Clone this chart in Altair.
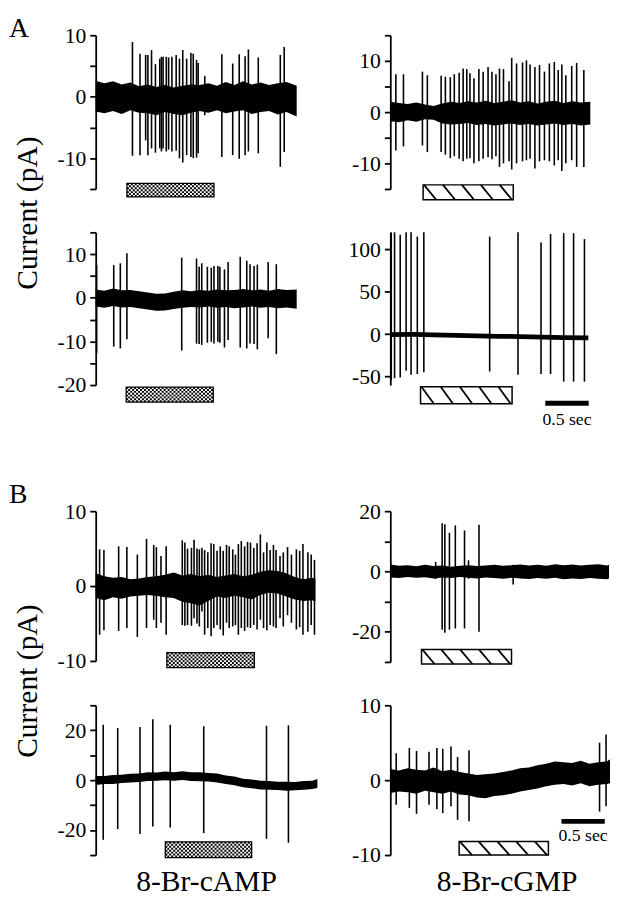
import altair as alt
import pandas as pd

FONT = "Liberation Serif"
PX_PER_S = 88  # horizontal scale of every trace: 0.5 sec = 44 px

# ---------------- Panel A, top left (8-Br-cAMP) ----------------
a1_t = [0.424, 0.511, 0.576, 0.602, 0.644, 0.689, 0.739, 0.758, 0.777, 0.814,
        0.841, 0.879, 0.928, 0.966, 1.004, 1.049, 1.098, 1.125, 1.163, 1.182,
        1.258, 1.455, 1.580, 1.655, 1.723, 1.761, 1.875, 2.129, 2.174]
a1_top = [8.9, 7.0, 6.8, 6.8, 7.6, 5.3, 6.2, 6.5, 6.5, 6.5, 6.4, 6.5, 6.8, 6.2, 7.6,
          6.2, 7.1, 7.0, 6.0, 5.5, 3.4, 6.9, 5.4, 6.9, 6.6, 7.7, 6.4, 6.8, 8.1]
a1_bot = [-9.6, -9.5, -7.1, -9.5, -8.4, -9.1, -8.4, -8.9, -8.4, -8.9, -8.6, -8.9, -8.8,
          -10.0, -10.7, -9.5, -9.8, -10.0, -9.9, -9.2, -3.0, -9.8, -9.5, -10.1, -9.5,
          -8.9, -9.2, -11.4, -9.0]
a1_env_t = [0, 0.1, 0.2, 0.3, 0.4, 0.5, 0.6, 0.7, 0.8, 0.9, 1.0, 1.1, 1.2, 1.3, 1.4,
            1.5, 1.6, 1.7, 1.8, 1.9, 2.0, 2.1, 2.2, 2.318]
a1_env_hi = [2.6, 2.2, 2.5, 2.0, 2.3, 1.7, 2.0, 1.6, 1.9, 1.5, 1.8, 2.0, 1.9, 2.2, 1.8,
             2.4, 1.9, 2.5, 2.0, 2.3, 1.9, 2.2, 2.4, 1.8]
a1_env_lo = [-2.4, -2.7, -2.3, -2.8, -2.2, -2.6, -2.7, -3.0, -2.5, -2.8, -3.0, -2.6,
             -2.3, -2.6, -2.2, -2.7, -2.4, -2.2, -2.8, -2.5, -2.3, -2.9, -2.5, -3.2]
a1_bar = [0.36, 1.364, -14.1, -16.3]  # start, end (s); top, bottom (pA)

# ---------------- Panel A, top right (8-Br-cGMP) ----------------
a2_t = [0.064, 0.152, 0.371, 0.428, 0.587, 0.636, 0.693, 0.739, 0.795, 0.841,
        0.883, 0.920, 0.966, 1.023, 1.072, 1.129, 1.174, 1.220, 1.261, 1.307,
        1.371, 1.402, 1.458, 1.527, 1.572, 1.614, 1.670, 1.723, 1.780, 1.837,
        1.894, 1.939, 1.981, 2.027, 2.095, 2.152, 2.235]
a2_top = [7.4, 7.4, 7.9, 7.2, 7.1, 6.9, 6.8, 7.4, 7.7, 8.5, 8.4, 7.6, 6.6, 8.4, 7.9,
          8.8, 7.9, 7.4, 8.5, 8.4, 6.0, 10.6, 9.5, 9.7, 10.1, 9.3, 8.8, 9.2, 7.9,
          9.5, 9.8, 8.2, 9.3, 7.2, 9.0, 9.6, 8.2]
a2_bot = [-7.5, -6.7, -6.5, -7.8, -7.8, -8.3, -9.0, -8.6, -9.1, -9.6, -9.1, -9.0,
          -10.0, -9.6, -9.1, -8.8, -9.2, -8.6, -10.7, -10.0, -9.6, -11.2, -10.0,
          -9.6, -9.4, -9.1, -11.0, -9.6, -9.4, -9.6, -10.4, -9.4, -11.5, -10.0,
          -9.4, -10.7, -10.7]
a2_env_t = [0, 0.1, 0.2, 0.3, 0.4, 0.5, 0.6, 0.7, 0.8, 0.9, 1.0, 1.1, 1.2, 1.3, 1.4,
            1.5, 1.6, 1.7, 1.8, 1.9, 2.0, 2.1, 2.2, 2.31]
a2_env_hi = [2.0, 1.8, 1.6, 1.9, 1.5, 1.2, 1.7, 2.0, 1.8, 2.1, 1.9, 2.2, 1.8, 2.0,
             2.3, 1.9, 2.1, 1.7, 2.0, 2.2, 1.8, 2.1, 1.9, 2.0]
a2_env_lo = [-1.8, -2.0, -1.6, -1.9, -1.4, -1.5, -2.2, -2.4, -2.3, -2.1, -2.5, -2.3,
             -2.6, -2.4, -2.2, -2.5, -2.3, -2.6, -2.4, -2.2, -2.5, -2.3, -2.6, -2.4]
a2_bar = [0.379, 1.420, -14.2, -17.1]

# ---------------- Panel A, bottom left (8-Br-cAMP) ----------------
a3_t = [0.011, 0.208, 0.284, 0.360, 0.992, 1.163, 1.193, 1.223, 1.288, 1.333, 1.364,
        1.409, 1.432, 1.485, 1.527, 1.667, 1.742, 1.780, 1.826, 1.864, 1.989, 2.083]
a3_top = [7.5, 7.5, 7.9, 10.2, 9.2, 9.0, 7.1, 7.9, 7.1, 6.9, 7.3, 7.3, 7.1, 6.5, 8.2,
          9.4, 8.5, 7.7, 7.3, 7.6, 8.2, 7.7]
a3_bot = [-12.7, -11.2, -11.6, -9.5, -12.1, -10.5, -10.6, -10.8, -10.3, -10.1, -10.5,
          -10.1, -10.3, -11.4, -9.7, -11.4, -11.6, -10.5, -10.6, -11.8, -9.3, -12.9]
a3_env_t = [0, 0.1, 0.2, 0.3, 0.4, 0.5, 0.6, 0.7, 0.8, 0.9, 1.0, 1.1, 1.2, 1.3, 1.4,
            1.5, 1.6, 1.7, 1.8, 1.9, 2.0, 2.1, 2.2, 2.318]
a3_env_hi = [1.9, 1.6, 2.1, 1.7, 1.8, 1.5, 1.2, 0.9, 1.0, 1.4, 1.7, 1.5, 1.8, 1.6,
             1.9, 1.7, 1.8, 2.0, 1.7, 1.9, 1.6, 2.0, 1.8, 1.9]
a3_env_lo = [-2.0, -2.3, -1.9, -2.2, -2.1, -2.4, -2.7, -3.0, -2.9, -2.6, -2.3, -2.1,
             -2.2, -2.0, -2.3, -2.1, -2.4, -2.2, -2.0, -2.3, -2.1, -2.4, -2.2, -2.5]
a3_bar = [0.352, 1.356, -20.5, -23.9]

# ---------------- Panel A, bottom right (8-Br-cGMP) ----------------
a4_t = [0.011, 0.049, 0.114, 0.182, 0.239, 0.311, 0.386, 1.144, 1.470, 1.735,
        1.845, 1.996, 2.110, 2.235]
a4_top = [120, 120, 117, 120, 120, 115, 120, 115, 120, 108, 118, 119, 119, 112]
a4_bot = [-54, -52, -51, -43, -48, -47, -45, -44, -48, -47, -47, -56, -56, -56]
a4_env_t = [0, 0.25, 0.5, 0.75, 1.0, 1.25, 1.5, 1.75, 2.0, 2.28]
a4_env_hi = [2.3, 2.5, 2.0, 1.2, 0.8, 0.3, 0.0, -0.6, -1.2, -1.6]
a4_env_lo = [-3.3, -3.1, -3.6, -4.4, -4.8, -5.3, -5.6, -6.2, -6.8, -7.2]
a4_bar = [0.348, 1.402, -62, -82]
a4_scalebar = [1.784, 2.284, -81.5, -101]  # start, end (0.5 s), bar level, label level

# ---------------- Panel B, top left (8-Br-cAMP) ----------------
b1_t = [0.045, 0.095, 0.265, 0.360, 0.481, 0.587, 0.670, 0.701, 0.754, 0.814,
        1.000, 1.030, 1.061, 1.106, 1.136, 1.170, 1.197, 1.227, 1.258, 1.295,
        1.333, 1.364, 1.402, 1.439, 1.473, 1.511, 1.542, 1.583, 1.614, 1.648,
        1.682, 1.720, 1.754, 1.788, 1.826, 1.864, 1.902, 1.939, 1.977, 2.015,
        2.053, 2.083, 2.129, 2.167, 2.216, 2.261, 2.318, 2.356, 2.394, 2.451,
        2.489, 2.527]
b1_top = [4.9, 4.8, 5.3, 5.2, 4.2, 6.3, 5.5, 5.2, 4.0, 5.3,
          6.1, 5.8, 5.0, 5.1, 6.2, 5.0, 4.9, 5.1, 4.8, 4.5,
          5.7, 5.6, 4.7, 5.3, 4.7, 5.5, 5.3, 4.9, 4.2, 5.6,
          6.0, 5.3, 5.9, 5.8, 5.1, 5.7, 6.9, 4.5, 5.8, 4.8,
          5.5, 4.8, 4.0, 4.5, 5.2, 4.2, 4.9, 4.7, 5.6, 4.5,
          4.2, 3.5]
b1_bot = [-6.5, -5.9, -6.0, -5.6, -6.8, -5.6, -4.5, -5.6, -4.9, -6.5,
          -5.2, -5.3, -5.2, -5.3, -4.3, -5.0, -5.4, -3.4, -6.5, -5.6,
          -6.7, -5.6, -5.2, -5.8, -6.6, -4.9, -5.6, -5.4, -5.2, -6.5,
          -5.6, -6.0, -5.5, -5.6, -5.2, -5.8, -4.5, -5.6, -5.9, -5.2,
          -5.4, -5.6, -4.3, -5.4, -3.9, -4.9, -5.8, -5.5, -6.5, -6.1,
          -5.2, -6.5]
b1_env_t = [0, 0.1, 0.2, 0.3, 0.4, 0.5, 0.6, 0.7, 0.8, 0.9, 1.0, 1.1, 1.2, 1.3, 1.4,
            1.5, 1.6, 1.7, 1.8, 1.9, 2.0, 2.1, 2.2, 2.3, 2.4, 2.5, 2.538]
b1_env_hi = [1.7, 1.3, 1.1, 1.2, 0.9, 1.0, 1.2, 1.3, 1.5, 1.8, 1.4, 1.6, 1.3, 1.5,
             1.2, 1.4, 1.6, 1.3, 1.5, 1.9, 2.1, 2.0, 1.7, 1.2, 0.9, 1.1, 1.0]
b1_env_lo = [-1.6, -1.9, -1.5, -1.7, -1.4, -1.3, -1.2, -1.3, -1.5, -1.6, -2.1, -2.3,
             -2.6, -2.0, -1.4, -1.6, -1.3, -1.5, -1.8, -1.2, -0.9, -1.0, -1.4, -1.8,
             -2.0, -1.9, -2.1]
b1_bar = [0.822, 1.833, -8.9, -10.9]

# ---------------- Panel B, top right (8-Br-cGMP) ----------------
b2_t = [0.523, 0.598, 0.629, 0.682, 0.750, 0.856, 0.902, 1.023, 1.417]
b2_top = [3.2, 16.0, 15.7, 12.8, 15.3, 13.6, 3.7, 15.5, 2.2]
b2_bot = [-2.5, -19.3, -20.3, -19.3, -18.9, -18.9, -2.4, -20.0, -4.3]
b2_env_t = [0, 0.1, 0.2, 0.3, 0.4, 0.5, 0.6, 0.7, 0.8, 0.9, 1.0, 1.1, 1.2, 1.3, 1.4,
            1.5, 1.6, 1.7, 1.8, 1.9, 2.0, 2.1, 2.2, 2.3, 2.4, 2.5, 2.523]
b2_env_hi = [2.3, 1.9, 2.1, 1.7, 2.2, 1.8, 2.0, 1.6, 1.9, 2.1, 1.8, 2.0, 2.2, 1.9,
             2.1, 2.3, 2.0, 2.2, 1.9, 2.4, 2.1, 2.3, 2.0, 2.2, 2.4, 2.0, 2.2]
b2_env_lo = [-2.0, -2.2, -1.8, -2.1, -1.9, -2.3, -2.0, -2.2, -1.8, -2.1, -2.3, -2.0,
             -2.2, -2.4, -2.1, -2.3, -2.5, -2.2, -2.4, -2.1, -2.6, -2.3, -2.5, -2.2,
             -2.4, -2.6, -2.3]
b2_bar = [0.360, 1.398, -25.9, -30.7]

# ---------------- Panel B, bottom left (8-Br-cAMP) ----------------
b3_t = [0.087, 0.254, 0.511, 0.659, 0.860, 1.246, 1.970, 2.223]
b3_top = [22.2, 20.9, 21.3, 24.4, 22.2, 21.6, 21.8, 22.0]
b3_bot = [-23.9, -19.6, -21.6, -18.6, -19.0, -21.2, -23.5, -25.1]
b3_env_t = [0, 0.1, 0.2, 0.3, 0.4, 0.5, 0.6, 0.7, 0.8, 0.9, 1.0, 1.1, 1.2, 1.3, 1.4,
            1.5, 1.6, 1.7, 1.8, 1.9, 2.0, 2.1, 2.2, 2.3, 2.4, 2.5, 2.557]
b3_env_hi = [1.7, 1.7, 2.1, 2.2, 2.6, 2.7, 3.2, 3.1, 3.5, 3.2, 3.6, 3.2, 3.2, 2.9,
             2.7, 1.9, 1.5, 0.6, 0.3, -0.2, -0.3, -0.6, -0.6, -0.7, -0.3, -0.2, 0.5]
b3_env_lo = [-1.9, -1.5, -1.5, -1.1, -0.9, -0.7, -0.3, -0.2, 0.0, -0.2, 0.1, -0.3,
             -0.4, -0.5, -0.9, -1.5, -2.0, -2.8, -3.2, -3.7, -3.8, -3.9, -4.2, -4.0,
             -3.8, -3.5, -3.1]
b3_bar = [0.803, 1.799, -24.7, -31.0]

# ---------------- Panel B, bottom right (8-Br-cGMP) ----------------
b4_t = [0.068, 0.220, 0.303, 0.447, 0.538, 0.606, 0.701, 0.777, 0.909, 2.417, 2.492]
b4_top = [3.6, 4.3, 3.9, 3.8, 4.3, 4.2, 4.5, 3.1, 4.0, 5.0, 6.1]
b4_bot = [-3.3, -3.7, -4.5, -3.3, -3.9, -4.4, -3.5, -5.3, -5.5, -4.2, -3.5]
b4_env_t = [0, 0.1, 0.2, 0.3, 0.4, 0.5, 0.6, 0.7, 0.8, 0.9, 1.0, 1.1, 1.2, 1.3, 1.4,
            1.5, 1.6, 1.7, 1.8, 1.9, 2.0, 2.1, 2.2, 2.3, 2.4, 2.5, 2.538]
b4_env_hi = [1.5, 1.3, 1.6, 1.4, 1.3, 1.7, 1.2, 1.4, 1.1, 0.9, 0.7, 0.8, 0.9, 1.1,
             1.3, 1.6, 1.7, 2.0, 2.2, 2.5, 2.4, 2.3, 2.6, 2.2, 2.4, 2.5, 2.8]
b4_env_lo = [-1.7, -1.5, -1.6, -1.8, -1.4, -1.6, -1.8, -1.5, -1.9, -2.0, -2.3, -2.4,
             -2.1, -2.0, -1.8, -1.5, -1.3, -1.1, -0.8, -0.6, -0.5, -0.7, -0.4, -0.8,
             -0.6, -0.5, -0.4]
b4_bar = [0.795, 1.826, -8.2, -10.0]
b4_scalebar = [1.977, 2.477, -5.5, -7.4]


def make_panel(tmax, height, dom, ticks, step, sp_t, sp_top, sp_bot,
               env_t, env_hi, env_lo, bar, kind,
               letter=None, ytitle=None, xtitle=None, scalebar=None):
    width = round(tmax * PX_PER_S)
    ppu = height / (dom[1] - dom[0])
    xs = alt.Scale(domain=[0, tmax], nice=False, zero=False)
    ys = alt.Scale(domain=list(dom), nice=False, zero=False)

    yax = dict(values=ticks,
               labelExpr=f"datum.value % {step} == 0 ? '' + datum.value : ''",
               title=None)
    if ytitle:
        yax.update(title="Current (pA)", titleX=ytitle[0], titleY=ytitle[1],
                   titleAngle=270, titleBaseline="alphabetic", titleAlign="center",
                   titleFontSize=30)
    if xtitle:
        xax = alt.Axis(domain=False, ticks=False, labels=False, title=xtitle[0],
                       titleFontSize=30, titleBaseline="alphabetic",
                       titleY=xtitle[1], titleX=xtitle[2], titleAlign="center")
    else:
        xax = None
    yax = alt.Axis(**yax)

    def X(f):
        return alt.X(f, scale=xs, axis=xax)

    def Y(f):
        return alt.Y(f, scale=ys, axis=yax)

    env = pd.DataFrame({"t": env_t, "hi": env_hi, "lo": env_lo})
    band = alt.Chart(env).mark_area(color="black", interpolate="linear").encode(
        x=X("t:Q"), y=Y("lo:Q"), y2="hi:Q")
    spk = pd.DataFrame({"t": sp_t, "top": sp_top, "bot": sp_bot})
    spikes = alt.Chart(spk).mark_rule(color="black", strokeWidth=1.6).encode(
        x=X("t:Q"), y=Y("bot:Q"), y2="top:Q")
    layers = [band, spikes]

    t0, t1, ytop, ybot = bar
    bar_df = pd.DataFrame({"a": [t0], "b": [t1], "y": [ytop], "y2": [ybot]})
    if kind == "camp":
        hpx = (ytop - ybot) * ppu
        n = max(1, round(hpx / 2))
        rows = [ytop - (i + 0.5) * (ytop - ybot) / n for i in range(n)]
        for k, off in ((0, 0), (1, 2)):
            rdf = pd.DataFrame({"a": t0, "b": t1, "y": rows[k::2]})
            layers.append(
                alt.Chart(rdf).mark_rule(color="black", strokeWidth=hpx / n,
                                         strokeDash=[2, 2], strokeDashOffset=off,
                                         strokeCap="butt").encode(
                    x=X("a:Q"), x2="b:Q", y=Y("y:Q"))
            )
        layers.append(
            alt.Chart(bar_df).mark_rect(filled=False, stroke="black", strokeWidth=1.3).encode(
                x=X("a:Q"), x2="b:Q", y=Y("y:Q"), y2="y2:Q")
        )
    else:
        layers.append(
            alt.Chart(bar_df).mark_rect(fill="white", stroke="black", strokeWidth=1.5).encode(
                x=X("a:Q"), x2="b:Q", y=Y("y:Q"), y2="y2:Q")
        )
        w = t1 - t0
        starts = [t0 + (0.01 + 0.21 * k) * w for k in range(5)]
        hdf = pd.DataFrame({"a": starts, "b": [s + 0.135 * w for s in starts],
                            "y": ytop, "y2": ybot})
        layers.append(
            alt.Chart(hdf).mark_rule(color="black", strokeWidth=1.8).encode(
                x=X("a:Q"), x2="b:Q", y=Y("y:Q"), y2="y2:Q")
        )

    if scalebar:
        s0, s1, sy, ly = scalebar
        sdf = pd.DataFrame({"a": [s0], "b": [s1], "y": [sy], "m": [(s0 + s1) / 2],
                            "ly": [ly], "label": ["0.5 sec"]})
        layers.append(
            alt.Chart(sdf).mark_rule(color="black", strokeWidth=5, strokeCap="butt").encode(
                x=X("a:Q"), x2="b:Q", y=Y("y:Q"))
        )
        layers.append(
            alt.Chart(sdf).mark_text(fontSize=18, font=FONT, color="black",
                                     baseline="middle", align="center").encode(
                x=X("m:Q"), y=Y("ly:Q"), text="label:N")
        )

    if letter:
        # panel letter, placed letter[1] px left of the y axis and letter[2] px below the top
        ldf = pd.DataFrame({"t": [letter[1] / PX_PER_S],
                            "y": [dom[1] - letter[2] / ppu], "label": [letter[0]]})
        layers.append(
            alt.Chart(ldf).mark_text(fontSize=28, font=FONT, color="black",
                                     baseline="alphabetic", align="left").encode(
                x=X("t:Q"), y=Y("y:Q"), text="label:N")
        )

    return alt.layer(*layers).properties(width=width, height=height)


A1 = make_panel(2.318, 156, (-15, 10), [-15, -10, -5, 0, 5, 10], 10,
                a1_t, a1_top, a1_bot, a1_env_t, a1_env_hi, a1_env_lo, a1_bar, "camp",
                letter=("A", -88, 1.5), ytitle=(-60, 180))
A2 = make_panel(2.31, 156, (-15, 15), [-15, -10, -5, 0, 5, 10, 15], 10,
                a2_t, a2_top, a2_bot, a2_env_t, a2_env_hi, a2_env_lo, a2_bar, "cgmp")
A3 = make_panel(2.318, 155, (-20, 15), [-20, -15, -10, -5, 0, 5, 10, 15], 10,
                a3_t, a3_top, a3_bot, a3_env_t, a3_env_hi, a3_env_lo, a3_bar, "camp")
A4 = make_panel(2.28, 155, (-60, 120), [-50, 0, 50, 100], 50,
                a4_t, a4_top, a4_bot, a4_env_t, a4_env_hi, a4_env_lo, a4_bar, "cgmp",
                scalebar=a4_scalebar)
B1 = make_panel(2.538, 152, (-10, 10), [-10, 0, 10], 10,
                b1_t, b1_top, b1_bot, b1_env_t, b1_env_hi, b1_env_lo, b1_bar, "camp",
                letter=("B", -88, -8), ytitle=(-60, 172))
B2 = make_panel(2.523, 153, (-30, 20), [-30, -20, -10, 0, 10, 20], 20,
                b2_t, b2_top, b2_bot, b2_env_t, b2_env_hi, b2_env_lo, b2_bar, "cgmp")
B3 = make_panel(2.557, 152, (-30, 30), [-30, -20, -10, 0, 10, 20, 30], 20,
                b3_t, b3_top, b3_bot, b3_env_t, b3_env_hi, b3_env_lo, b3_bar, "camp",
                xtitle=("8-Br-cAMP", 36, 112))
B4 = make_panel(2.538, 152, (-10, 10), [-10, 0, 10], 10,
                b4_t, b4_top, b4_bot, b4_env_t, b4_env_hi, b4_env_lo, b4_bar, "cgmp",
                xtitle=("8-Br-cGMP", 36, 118), scalebar=b4_scalebar)


def spacer(h):
    # empty cell that only opens the gap between groups A and B
    return alt.Chart(pd.DataFrame({"v": [0]})).mark_point(opacity=0).encode(
        x=alt.X("v:Q", axis=None), y=alt.Y("v:Q", axis=None)
    ).properties(width=10, height=h)


chart = alt.concat(
    A1, A2, A3, A4, spacer(40), spacer(40), B1, B2, B3, B4,
    columns=2, spacing={"row": 44, "column": 74}, bounds="flush",
).resolve_scale(x="independent", y="independent").properties(
    padding={"left": 0, "top": 0, "right": 2, "bottom": 0}, background="white"
).configure_view(stroke=None).configure_axis(
    grid=False, domainColor="black", domainWidth=1.8, tickColor="black",
    tickWidth=1.8, tickSize=6, labelColor="black", labelFont=FONT, labelFontSize=22,
    labelPadding=4, titleColor="black", titleFont=FONT, titleFontWeight="normal",
)

chart.save("out.html", embed_options={"renderer": "svg", "actions": False})
